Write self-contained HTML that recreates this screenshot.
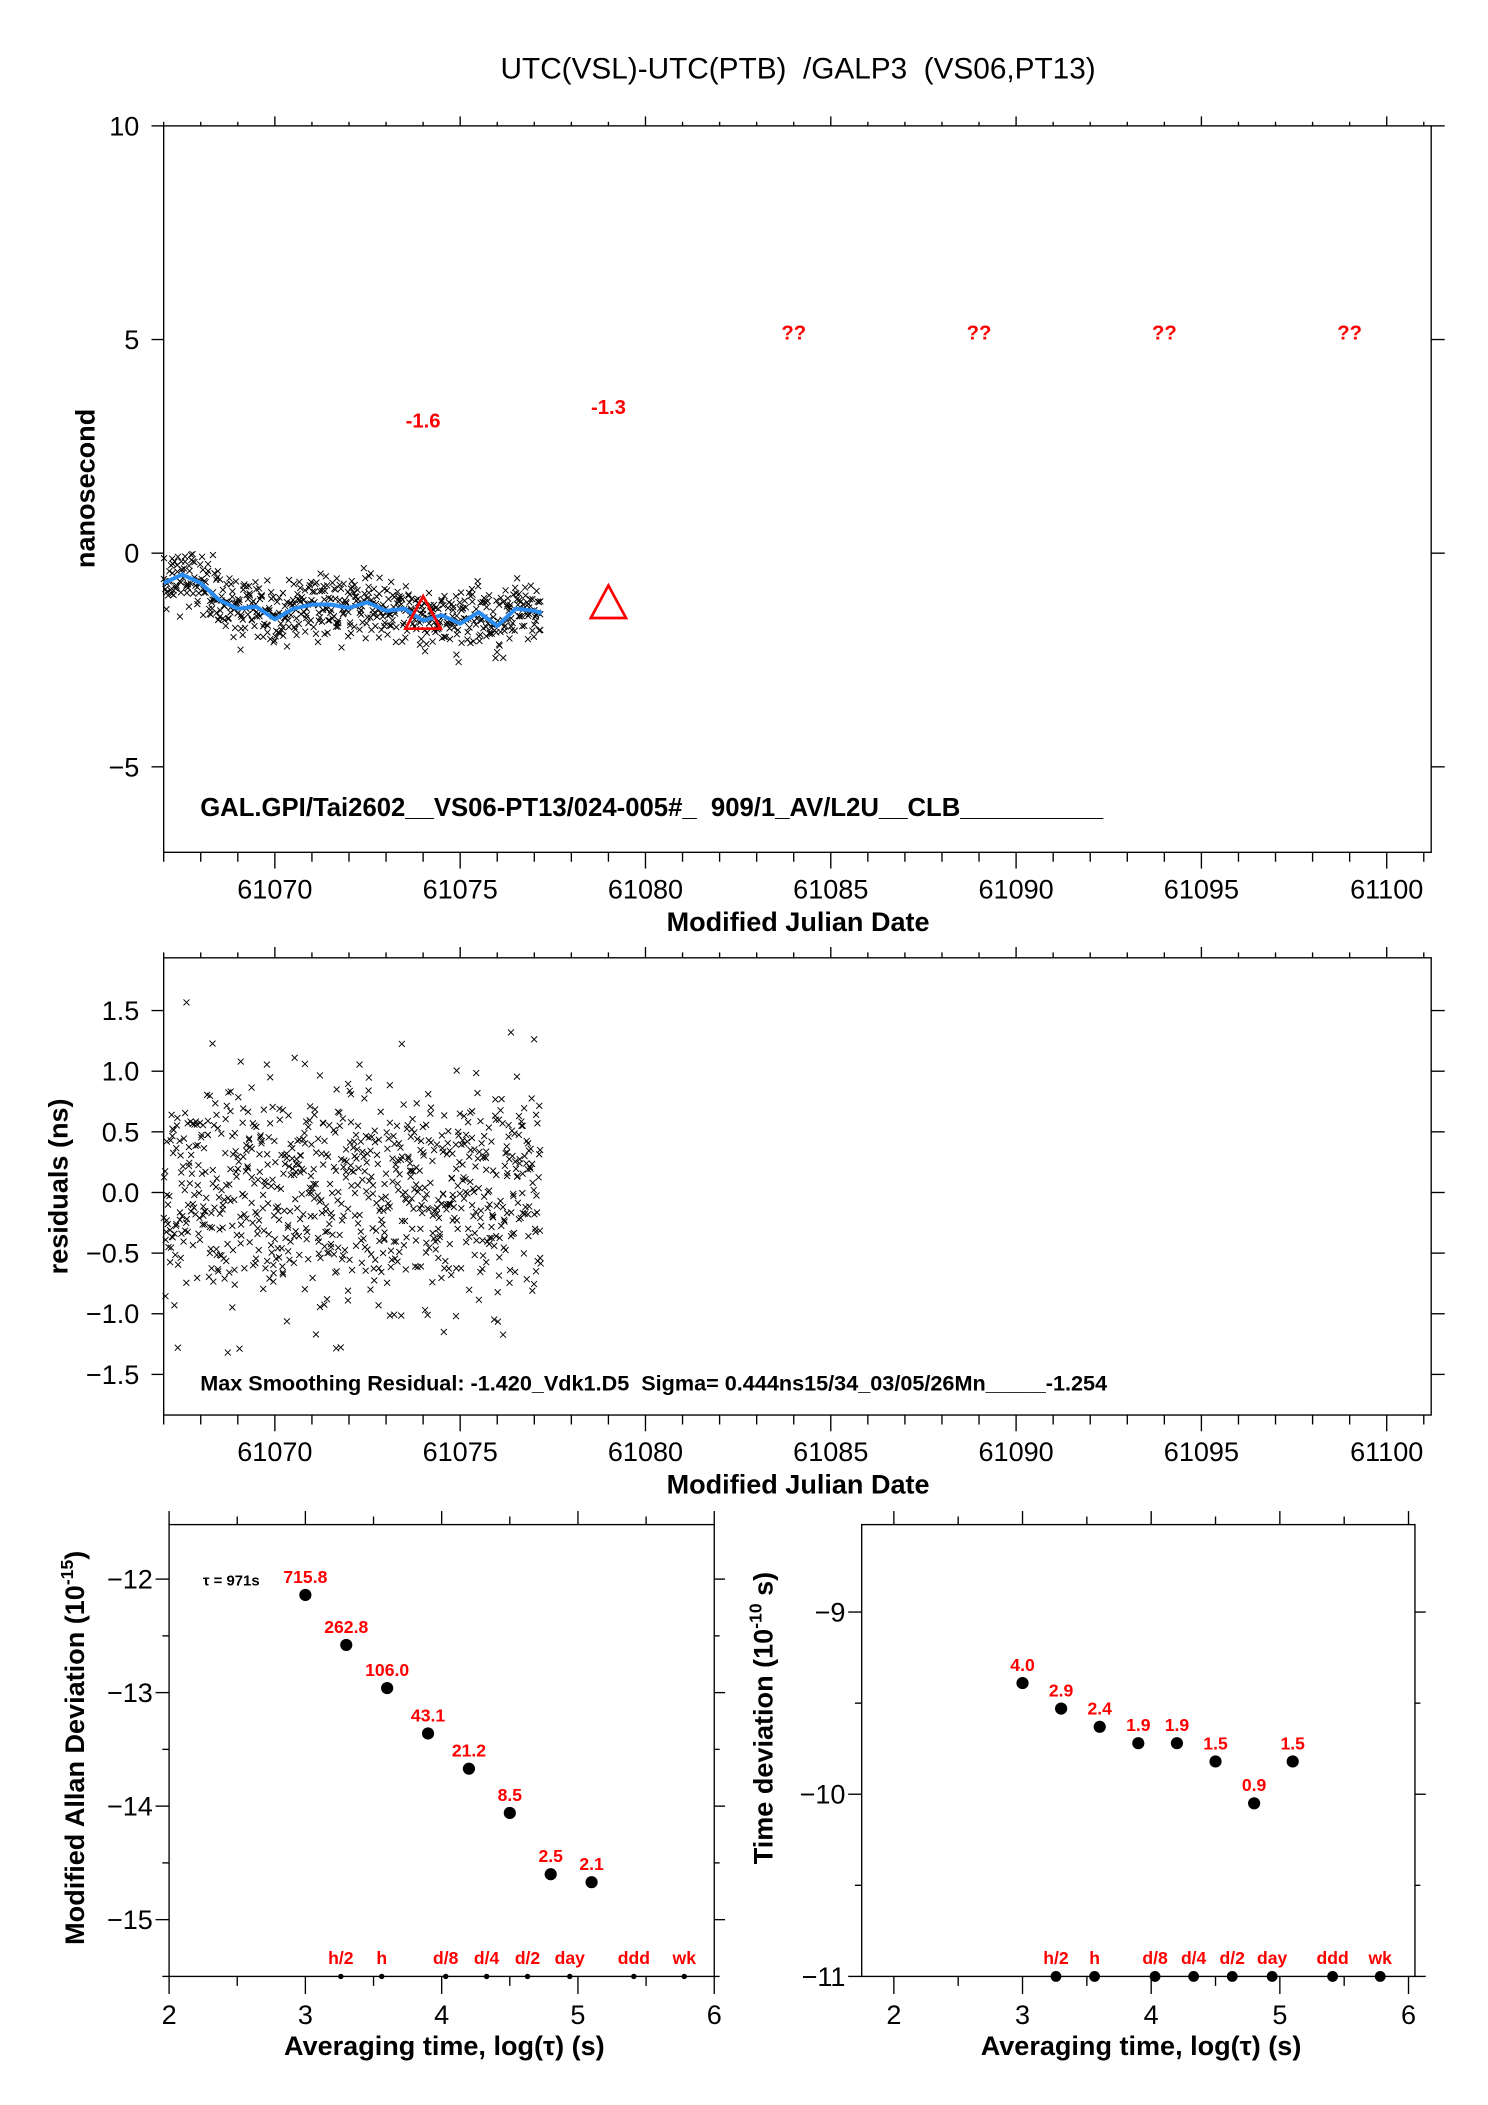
<!DOCTYPE html>
<html><head><meta charset="utf-8"><style>
html,body{margin:0;padding:0;background:#fff}
svg{display:block}
text{font-family:"Liberation Sans",Arial,sans-serif;white-space:pre}
</style></head><body>
<svg id="chart" width="1488" height="2105" viewBox="0 0 1100 1556" xmlns="http://www.w3.org/2000/svg">
<text x="590" y="58" font-size="22" text-anchor="middle">UTC(VSL)-UTC(PTB)  /GALP3  (VS06,PT13)</text>
<g id="g1"></g>
<g id="g2"></g>
<g id="g3"></g>
<g id="g4"></g>
</svg>
<script>
// ---- data ----
const smoothDays = [61067,61067.5,61068,61068.5,61069,61069.5,61070,61070.5,61071,61071.5,61072,61072.5,61073,61073.5,61074,61074.5,61075,61075.5,61076,61076.5,61077,61077.2];
const smoothVals = [-0.7,-0.5,-0.7,-1.1,-1.3,-1.25,-1.55,-1.3,-1.2,-1.2,-1.28,-1.15,-1.35,-1.3,-1.58,-1.45,-1.65,-1.38,-1.7,-1.3,-1.35,-1.4];
const residuals = [0.8,0.3,-0.2,0.5,-0.6,0.1,-1.1,0.6,-0.3,0.2,-0.5,0.9,0.4,-0.8,0.0,0.3,-0.4,0.7,-1.2,0.2,
-0.1,0.5,-0.6,0.3,0.8,-0.3,0.1,-0.9,0.4,-0.2,0.6,-0.5,1.0,-0.7,0.2,-0.1,0.4,-1.3,0.3,-0.4,
0.5,0.0,-0.6,0.7,-0.2,0.3,-0.8,0.1,0.6,-0.3,0.2,-0.5,0.9,-0.1,0.4,-0.7,0.0,0.3,-0.4,0.6,
-0.9,0.2,0.5,-0.2,0.8,-0.6,0.1,-0.3,0.4,-1.15,0.7,0.0,-0.5,0.3,-0.2,0.9,-0.7,0.2,-0.4,0.5,
0.1,-0.8,0.4,-0.1,0.6,-0.3,1.4,-0.6,0.2,-0.2,0.3,-0.9,0.5,0.0,-0.4,0.8,-0.7,0.1,-1.0,0.4,
-0.3,0.6,-0.1,0.2,-0.5,0.9,-0.2,0.3,-0.8,0.5,0.0,-0.4,0.7,-0.6,0.1,1.35,-0.3,0.4,-1.15,0.2,
-0.5,0.6,-0.2,0.3,-0.7,0.8,0.0,-0.4,0.5,-0.9,0.2,-0.1,0.4,-0.6,0.7,-0.3,0.1,-1.0,0.5,-0.2,
0.3,-0.5,0.6,-0.8,0.0,0.4,-0.3,1.0,-0.6,0.2,-0.1,0.5,-0.4,0.3,-0.9,0.7,-0.2,0.1,-0.5,0.6,
-0.3,0.4,-1.15,0.2,-0.6,0.8,0.0,-0.4,0.5,-0.2,0.3,-0.7,0.6,-0.1,0.4,-0.8,0.2,1.15,-0.5,0.1,
-0.3,0.6,-0.6,0.3,-0.9,0.5,0.0,-0.4,0.7,-0.2,0.2,-0.5,0.9,-0.7,0.3,-0.1,0.5,-0.6,0.8,-0.3,
0.2,-0.8,0.4,-0.2,0.6,-0.5,0.1,-0.4,0.85,-0.3];
const dayStart = 61067, dayEnd = 61077.2;
const triDays = [61074, 61079];
const triVals = [-1.45, -1.2];
const triLabels = ['-1.6', '-1.3'];
const qDays = [61084, 61089, 61094, 61099];
const mdevX = [3.0,3.3,3.6,3.9,4.2,4.5,4.8,5.1];
const mdevY = [-12.14,-12.58,-12.96,-13.36,-13.67,-14.06,-14.6,-14.67];
const mdevLabels = ['715.8','262.8','106.0','43.1','21.2','8.5','2.5','2.1'];
const tdevX = [3.0,3.3,3.6,3.9,4.2,4.5,4.8,5.1];
const tdevY = [-9.39,-9.53,-9.63,-9.72,-9.72,-9.82,-10.05,-9.82];
const tdevLabels = ['4.0','2.9','2.4','1.9','1.9','1.5','0.9','1.5'];
const markX = [3.26,3.56,4.03,4.33,4.63,4.94,5.41,5.78];
const markLabels = ['h/2','h','d/8','d/4','d/2','day','ddd','wk'];
const mjdTicks = [61070,61075,61080,61085,61090,61095,61100];
const yTicks1 = [10,5,0,-5];
const yTicks2 = [1.5,1.0,0.5,0.0,-0.5,-1.0,-1.5];
const yTicks3 = [-12,-13,-14,-15];
const yTicks4 = [-9,-10,-11];
const logTicks = [2,3,4,5,6];

const NS='http://www.w3.org/2000/svg';
function mk(parent, tag, attrs, txt){const e=document.createElementNS(NS,tag);for(const k in attrs)e.setAttribute(k,attrs[k]);if(txt!==undefined)e.textContent=txt;parent.appendChild(e);return e;}
function scale(d0,d1,r0,r1){return v=>r0+(v-d0)*(r1-r0)/(d1-d0);}
const N=residuals.length;
function mix(i,rep){const a=residuals[(i*7+rep*53)%N],b=residuals[(i*13+rep*31+5)%N],c=residuals[(i*3+rep*17+11)%N];return 0.75*a+0.35*b+0.15*c;}
function dayOf(i,rep,reps){const j=(i*reps+rep);const base=dayStart+j*(dayEnd-dayStart)/(N*reps);const o=residuals[(i*11+rep*7+3)%N]*0.02;return Math.min(dayEnd,Math.max(dayStart,base+o));}

// Panel 1
const g1=document.getElementById('g1');
const X1=scale(61067,61101.2,121,1058), Y1=scale(-7,10,630,93);
mk(g1,'rect',{x:121,y:93,width:937,height:537,fill:'none',stroke:'#000','stroke-width':1});
for(let d=61067;d<=61101;d++){const x=X1(d);const maj=d%5===0;
 let t=mk(g1,'line',{x1:x,x2:x,y1:93,y2:maj?86:90,stroke:'#000'});
 t=mk(g1,'line',{x1:x,x2:x,y1:630,y2:maj?642:637,stroke:'#000'});}
mjdTicks.forEach(v=>{const t=mk(g1,'text',{x:X1(v),y:664,'font-size':20,'text-anchor':'middle'},String(v));});
yTicks1.forEach(v=>{const y=Y1(v);mk(g1,'line',{x1:112,x2:121,y1:y,y2:y,stroke:'#000'});mk(g1,'line',{x1:1058,x2:1068,y1:y,y2:y,stroke:'#000'});
 const t=mk(g1,'text',{x:103,y:y+7,'font-size':20,'text-anchor':'end'},v<0?'\u2212'+(-v):String(v));});
let tt=mk(g1,'text',{x:590,y:688,'font-size':20,'font-weight':'bold','text-anchor':'middle'},'Modified Julian Date');
tt=mk(g1,'text',{x:70,y:361,'font-size':20,'font-weight':'bold','text-anchor':'middle',transform:'rotate(-90 70 361)'},'nanosecond');
function interp(d){for(let i=0;i<smoothDays.length-1;i++){if(d<=smoothDays[i+1]){const f=(d-smoothDays[i])/(smoothDays[i+1]-smoothDays[i]);return smoothVals[i]+f*(smoothVals[i+1]-smoothVals[i]);}}return smoothVals[smoothVals.length-1];}
function cross(g,x,y,name){const p=mk(g,'path',{d:`M${x-2.2},${y-2.2}L${x+2.2},${y+2.2}M${x-2.2},${y+2.2}L${x+2.2},${y-2.2}`,stroke:'#000','stroke-width':0.7});}
for(let rep=0;rep<3;rep++){residuals.forEach((r,i)=>{const d=dayOf(i,rep,3);
 cross(g1,X1(d),Y1(interp(d)+mix(i,rep)*0.75),'data-point');});}
let pd='';smoothDays.forEach((d,i)=>{pd+=(i?'L':'M')+X1(d).toFixed(1)+','+Y1(smoothVals[i]).toFixed(1);});
tt=mk(g1,'path',{d:pd,fill:'none',stroke:'#2a8cf0','stroke-width':3,'stroke-linejoin':'round'});
triDays.forEach((d,i)=>{const x=X1(d),y=Y1(triVals[i]);
 let t=mk(g1,'path',{d:`M${x},${y-14}L${x+13},${y+10}L${x-13},${y+10}Z`,fill:'none',stroke:'#f00','stroke-width':2});
 t=mk(g1,'text',{x:x,y:i===0?316:306,'font-size':15,'font-weight':'bold',fill:'#f00','text-anchor':'middle'},triLabels[i]);});
qDays.forEach(d=>{const t=mk(g1,'text',{x:X1(d),y:251,'font-size':15,'font-weight':'bold',fill:'#f00','text-anchor':'middle'},'??');});
tt=mk(g1,'text',{x:148,y:603,'font-size':19,'font-weight':'bold'},'GAL.GPI/Tai2602__VS06-PT13/024-005#_  909/1_AV/L2U__CLB__________');

// Panel 2
const g2=document.getElementById('g2');
const X2=scale(61067,61101.2,121,1058), Y2=scale(-1.835,1.935,1046,708);
mk(g2,'rect',{x:121,y:708,width:937,height:338,fill:'none',stroke:'#000'});
for(let d=61067;d<=61101;d++){const x=X2(d);const maj=d%5===0;
 mk(g2,'line',{x1:x,x2:x,y1:708,y2:maj?700:704,stroke:'#000'});mk(g2,'line',{x1:x,x2:x,y1:1046,y2:maj?1058:1053,stroke:'#000'});}
mjdTicks.forEach(v=>{const t=mk(g2,'text',{x:X2(v),y:1080,'font-size':20,'text-anchor':'middle'},String(v));});
yTicks2.forEach(v=>{const y=Y2(v);mk(g2,'line',{x1:112,x2:121,y1:y,y2:y,stroke:'#000'});mk(g2,'line',{x1:1058,x2:1068,y1:y,y2:y,stroke:'#000'});
 const t=mk(g2,'text',{x:103,y:y+7,'font-size':20,'text-anchor':'end'},v<0?'\u2212'+(-v).toFixed(1):v.toFixed(1));});
tt=mk(g2,'text',{x:590,y:1104,'font-size':20,'font-weight':'bold','text-anchor':'middle'},'Modified Julian Date');
tt=mk(g2,'text',{x:50,y:877,'font-size':20,'font-weight':'bold','text-anchor':'middle',transform:'rotate(-90 50 877)'},'residuals (ns)');
for(let rep=0;rep<4;rep++){residuals.forEach((r,i)=>{const d=dayOf(i,rep,4);
 cross(g2,X2(d),Y2(mix(i,rep+1)),'residual-point');});}
tt=mk(g2,'text',{x:148,y:1028,'font-size':16,'font-weight':'bold'},'Max Smoothing Residual: -1.420_Vdk1.D5  Sigma= 0.444ns15/34_03/05/26Mn_____-1.254');

// Panels 3/4
function devPanel(g,L,R,xmin,xmax,ymin,ymax,yt,xs,ys,labs,small){
 const X=scale(xmin,xmax,L,R), Y=scale(ymin,ymax,1461,1127);
 mk(g,'rect',{x:L,y:1127,width:R-L,height:334,fill:'none',stroke:'#000'});
 for(let v=2;v<=6.001;v+=0.5){const x=X(v);const maj=Math.abs(v-Math.round(v))<0.01;
  mk(g,'line',{x1:x,x2:x,y1:1127,y2:maj?1117:1121,stroke:'#000'});mk(g,'line',{x1:x,x2:x,y1:1461,y2:maj?1474:1468,stroke:'#000'});}
 logTicks.forEach(v=>{const t=mk(g,'text',{x:X(v),y:1496,'font-size':20,'text-anchor':'middle'},String(v));});
 for(let v=Math.ceil(ymin*2)/2;v<=ymax;v+=0.5){const y=Y(v);const maj=Math.abs(v-Math.round(v))<0.01;
  mk(g,'line',{x1:L-(maj?10:5),x2:L,y1:y,y2:y,stroke:'#000'});mk(g,'line',{x1:R,x2:R+(maj?8:4),y1:y,y2:y,stroke:'#000'});}
 yt.forEach(v=>{const t=mk(g,'text',{x:L-12,y:Y(v)+7,'font-size':20,'text-anchor':'end'},'\u2212'+(-v));});
 let t=mk(g,'text',{x:(L+R)/2+2,y:1519,'font-size':20,'font-weight':'bold','text-anchor':'middle'},'Averaging time, log(\u03C4) (s)');
 xs.forEach((v,i)=>{let c=mk(g,'circle',{cx:X(v),cy:Y(ys[i]),r:4.5,fill:'#000'});
  c=mk(g,'text',{x:X(v),y:Y(ys[i])-9,'font-size':13,'font-weight':'bold',fill:'#f00','text-anchor':'middle'},labs[i]);});
 markX.forEach((v,i)=>{let c=mk(g,'circle',{cx:X(v),cy:1461,r:small?2:4,fill:'#000'});
  c=mk(g,'text',{x:X(v),y:1452,'font-size':13,'font-weight':'bold',fill:'#f00','text-anchor':'middle'},markLabels[i]);});
 return X;
}
const g3=document.getElementById('g3');
devPanel(g3,125,528,2,6,-15.5,-11.52,yTicks3,mdevX,mdevY,mdevLabels,true);
tt=mk(g3,'text',{x:150,y:1172,'font-size':11,'font-weight':'bold'},'\u03C4 = 971s');
tt=mk(g3,'text',{x:62,y:1292,'font-size':20,'font-weight':'bold','text-anchor':'middle',transform:'rotate(-90 62 1292)'});
tt.innerHTML='Modified Allan Deviation (10<tspan dy="-8" font-size="13">-15</tspan><tspan dy="8">)</tspan>';
const g4=document.getElementById('g4');
devPanel(g4,637,1046,1.75,6.05,-11,-8.52,yTicks4,tdevX,tdevY,tdevLabels,false);
tt=mk(g4,'text',{x:571,y:1270,'font-size':20,'font-weight':'bold','text-anchor':'middle',transform:'rotate(-90 571 1270)'});
tt.innerHTML='Time deviation (10<tspan dy="-8" font-size="13">-10</tspan><tspan dy="8"> s)</tspan>';
</script>
</body></html>
